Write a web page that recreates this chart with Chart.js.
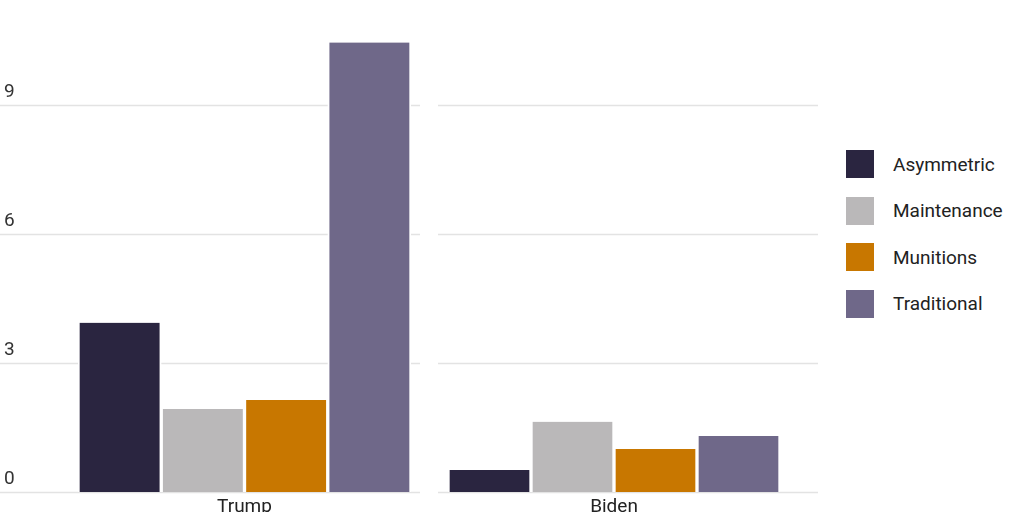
<!DOCTYPE html>
<html><head><meta charset="utf-8">
<script src="https://cdn.jsdelivr.net/npm/chart.js@4/dist/chart.umd.min.js"></script>
<style>
html,body{margin:0;padding:0;background:#fff;width:1024px;height:512px;overflow:hidden;font-family:Roboto,sans-serif}
canvas{position:absolute;top:0}
#legend{position:absolute;left:846px;top:150px}
.item{display:flex;align-items:center;height:28px;margin-bottom:18.5px;font-size:19px;color:#222}
.sw{width:28px;height:28px;margin-right:19px}
</style></head><body>
<div id="w1" style="position:absolute;left:0;top:0;width:420px;height:512px"><canvas id="c1"></canvas></div>
<div id="w2" style="position:absolute;left:438px;top:0;width:380px;height:512px"><canvas id="c2"></canvas></div>
<div id="legend"></div>
<script>
const series = ["Asymmetric","Maintenance","Munitions","Traditional"];
const colors = ["#2a2540","#bab8b9","#c87700","#6f6889"];
const panels = ["Trump","Biden"];
const trumpValues = [3.93, 1.93, 2.14, 10.44];
const bidenValues = [0.51, 1.63, 1.0, 1.3];
const tickValues = [0,3,6,9];

const leg=document.getElementById('legend');
series.forEach((s,i)=>{leg.innerHTML+=`<div class="item"><div class="sw" style="background:${colors[i]}"></div>${s}</div>`;});

function makePlugin(showTicks,label){
  return {id:'deco',
    beforeDatasetsDraw(chart){
      const ctx=chart.ctx,y=chart.scales.y;
      ctx.save();
      ctx.strokeStyle='#e3e3e3';ctx.lineWidth=1.5;
      tickValues.forEach(v=>{const p=Math.round(y.getPixelForValue(v))+0.5;
        ctx.beginPath();ctx.moveTo(0,p);ctx.lineTo(chart.width,p);ctx.stroke();
        if(showTicks){ctx.fillStyle='#333';ctx.font='19px Roboto';ctx.textBaseline='bottom';ctx.textAlign='left';ctx.fillText(String(v),4,p-4);}
      });
      ctx.restore();
    },
    afterDraw(chart){
      const ctx=chart.ctx,a=chart.chartArea;
      ctx.save();ctx.fillStyle='#222';ctx.font='19px Roboto';ctx.textAlign='center';ctx.textBaseline='top';
      ctx.fillText(label,(a.left+a.right)/2,a.bottom+6);ctx.restore();
    }};
}
function make(id,vals,label,padL,padR,showTicks){
  new Chart(document.getElementById(id),{
    type:'bar',
    data:{labels:series,datasets:[{data:vals,backgroundColor:colors,borderColor:'#fff',borderWidth:{left:2,right:2},borderSkipped:'bottom',barPercentage:1,categoryPercentage:1}]},
    options:{responsive:true,maintainAspectRatio:false,animation:false,
      layout:{padding:{left:padL,right:padR,top:40,bottom:20}},
      plugins:{legend:{display:false},tooltip:{enabled:false}},
      scales:{x:{display:false,offset:true},y:{display:false,min:0,max:10.5}}},
    plugins:[makePlugin(showTicks,label)]
  });
}
make('c1',trumpValues,panels[0],78,9,true);
make('c2',bidenValues,panels[1],10,38,false);
</script></body></html>
